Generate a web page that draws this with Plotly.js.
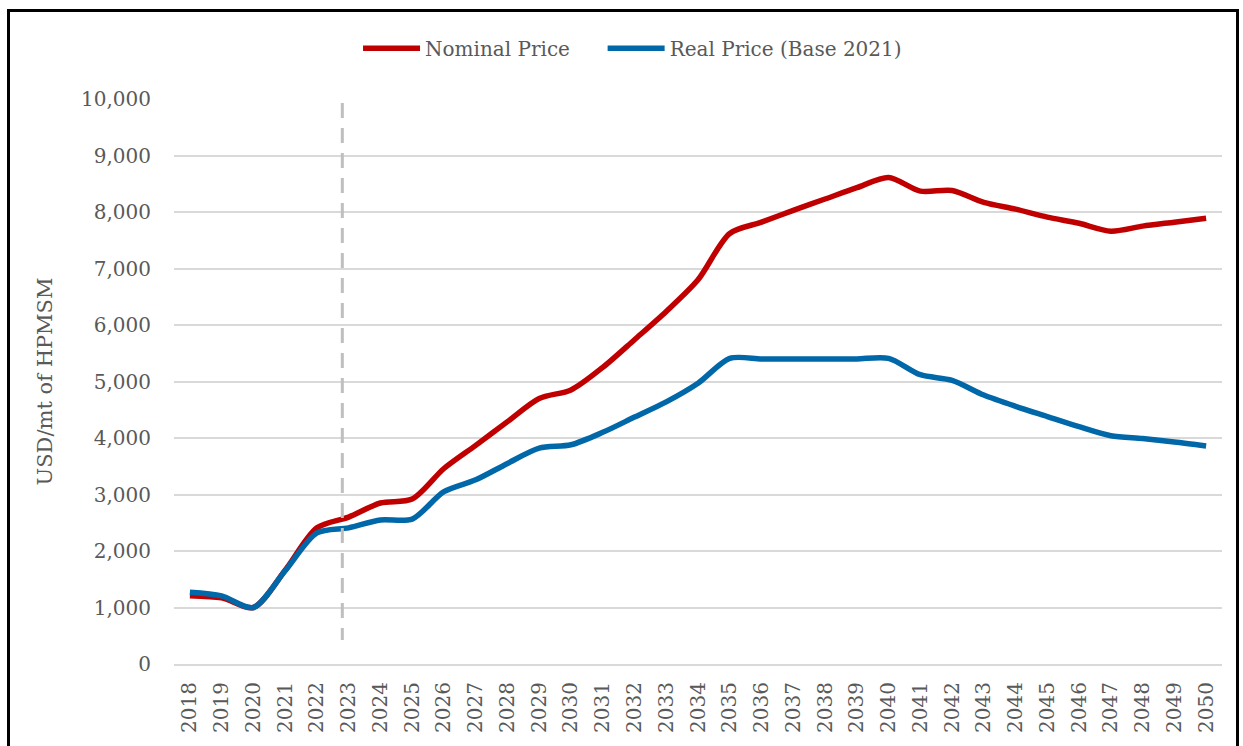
<!DOCTYPE html>
<html>
<head>
<meta charset="utf-8">
<script src="https://cdn.plot.ly/plotly-3.0.1.min.js"></script>
<style>
  html, body { margin: 0; padding: 0; background: #fff; }
  #wrap { position: relative; width: 1243px; height: 746px; }
  #chart { width: 1243px; height: 746px; }
  #frame { position: absolute; left: 7px; top: 9px; width: 1226px; height: 760px;
           border-left: 3px solid #000; border-top: 3px solid #000; border-right: 3px solid #000;
           pointer-events: none; }
</style>
</head>
<body>
<div id="wrap">
  <div id="chart"></div>
  <div id="frame"></div>
</div>
<script>
const years = ["2018","2019","2020","2021","2022","2023","2024","2025","2026","2027","2028",
  "2029","2030","2031","2032","2033","2034","2035","2036","2037","2038","2039","2040",
  "2041","2042","2043","2044","2045","2046","2047","2048","2049","2050"];

const nominalPrice = [1210, 1170, 1000, 1660, 2410, 2600, 2850, 2920, 3460, 3870, 4290,
  4700, 4850, 5250, 5740, 6240, 6800, 7620, 7820, 8030, 8230, 8430, 8610,
  8370, 8380, 8170, 8050, 7910, 7800, 7660, 7750, 7820, 7890];

const realPrice = [1270, 1205, 1000, 1650, 2320, 2410, 2550, 2565, 3050, 3260, 3550,
  3820, 3880, 4100, 4370, 4640, 4970, 5410, 5400, 5400, 5400, 5400, 5410,
  5120, 5020, 4760, 4560, 4380, 4200, 4040, 3990, 3930, 3860];

const yTicks = [0, 1000, 2000, 3000, 4000, 5000, 6000, 7000, 8000, 9000, 10000];
const yTickText = ["0", "1,000", "2,000", "3,000", "4,000", "5,000", "6,000", "7,000", "8,000", "9,000", "10,000"];

// forecast divider: sits just left of the 2023 category (category index ~4.8)
const divider = { position: 4.8, from: 425, to: 9930 };

const textColor = "#595959";
const fontFam = "'DejaVu Serif', 'Liberation Serif', serif";

const traces = [
  { x: years, y: nominalPrice, name: "Nominal Price", type: "scatter", mode: "lines",
    legend: "legend",
    line: { color: "#c00000", width: 5.5, shape: "spline", smoothing: 0.8 } },
  { x: years, y: realPrice, name: "Real Price (Base 2021)", type: "scatter", mode: "lines",
    legend: "legend2",
    line: { color: "#0067a8", width: 5.5, shape: "spline", smoothing: 0.8 } }
];

const legendStyle = (xPos) => ({
  orientation: "h", x: xPos, xanchor: "left", y: 1.09, yanchor: "middle",
  font: { family: fontFam, color: textColor, size: 20 }, itemwidth: 57,
  bgcolor: "rgba(0,0,0,0)", borderwidth: 0
});

const layout = {
  width: 1243, height: 746,
  margin: { l: 174, r: 21, t: 99, b: 82 },
  paper_bgcolor: "#fff", plot_bgcolor: "#fff",
  font: { family: fontFam, color: textColor, size: 20 },
  showlegend: true,
  legend: legendStyle(0.1756),
  legend2: legendStyle(0.409),
  xaxis: {
    type: "category", categoryorder: "array", categoryarray: years,
    range: [-0.5, years.length - 0.5],
    tickangle: -90, showgrid: false, zeroline: false,
    showline: true, linecolor: "#d9d9d9", linewidth: 2,
    ticks: "", ticklabelstandoff: 8,
    tickfont: { family: fontFam, color: textColor, size: 20 }
  },
  yaxis: {
    range: [0, 10000], tickvals: yTicks, ticktext: yTickText,
    showgrid: true, gridcolor: "#d9d9d9", gridwidth: 2,
    zeroline: false, showline: false, ticks: "", ticklabelstandoff: 22,
    tickfont: { family: fontFam, color: textColor, size: 20 },
    title: { text: "USD/mt of HPMSM", font: { family: fontFam, color: textColor, size: 21 }, standoff: 22 }
  },
  shapes: [
    { type: "line", xref: "x", yref: "y", x0: divider.position, x1: divider.position,
      y0: divider.to, y1: divider.from, layer: "above",
      line: { color: "#bfbfbf", width: 3, dash: "15px,10px" } }
  ]
};

Plotly.newPlot("chart", traces, layout, { displayModeBar: false, staticPlot: true });
</script>
</body>
</html>
